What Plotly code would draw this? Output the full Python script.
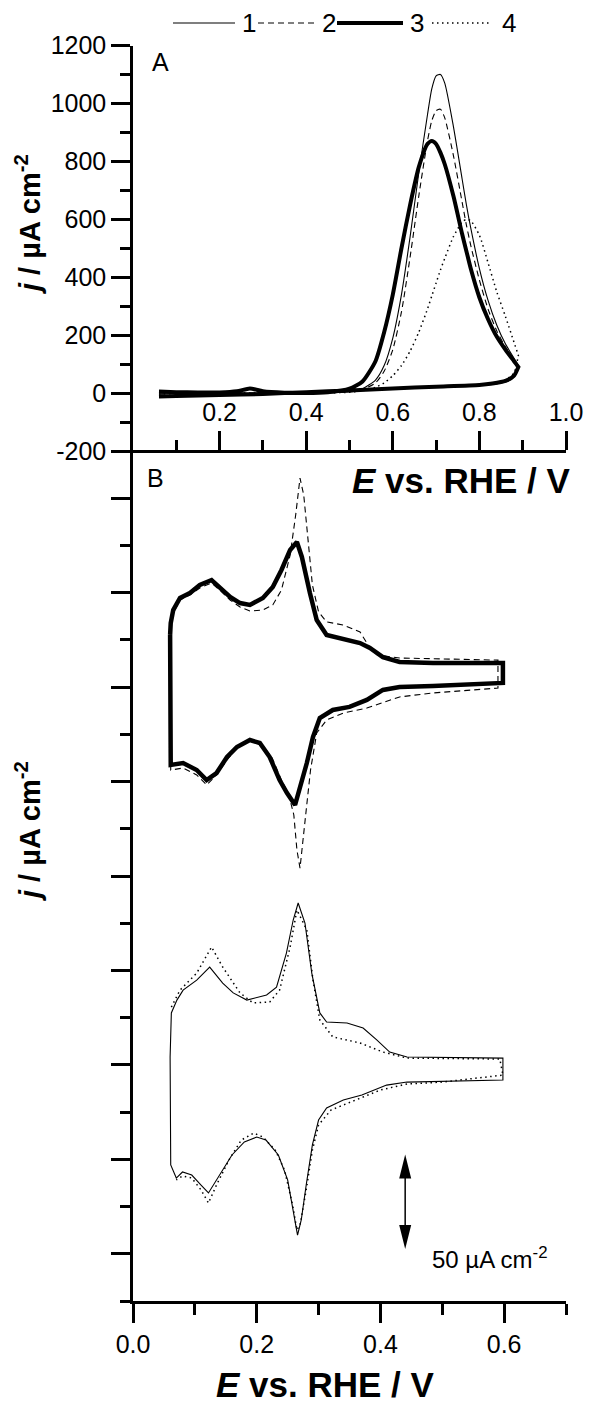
import plotly.graph_objects as go

FONT = "Liberation Sans, Arial, sans-serif"
W, H = 590, 1403

# ---------------- Panel A : CO stripping (j / uA cm-2 vs E / V) ----------------
A_E_fwd = [0.06, 0.10, 0.15, 0.20, 0.24, 0.27, 0.30, 0.35, 0.40, 0.45, 0.50, 0.53,
           0.56, 0.58, 0.60, 0.62, 0.64, 0.66, 0.68, 0.69, 0.70, 0.71, 0.72, 0.74,
           0.76, 0.77, 0.78, 0.80, 0.82, 0.84, 0.86, 0.88, 0.89]
A_E_rev = [0.89, 0.88, 0.86, 0.83, 0.80, 0.70, 0.60, 0.50, 0.40, 0.30, 0.20, 0.10, 0.06]

A1_fwd = [-3, -2, -2, -1, 0, 0, 0, 0, 0, 1, 5, 15, 45, 95, 190, 340, 540, 760, 960,
          1050, 1095, 1100, 1070, 920, 740, 650, 570, 430, 320, 235, 170, 120, 95]
A1_rev = [95, 55, 38, 30, 26, 20, 14, 8, 2, -4, -8, -11, -13]

A2_fwd = [-3, -2, -2, -1, 0, 0, 0, 0, 0, 1, 4, 12, 35, 75, 150, 280, 470, 680, 870,
          940, 975, 980, 950, 820, 660, 580, 510, 390, 290, 215, 160, 115, 95]
A2_rev = [95, 58, 40, 31, 27, 21, 15, 8, 2, -4, -8, -11, -13]

A3_fwd = [5, 3, 2, 2, 6, 16, 6, 1, 0, 3, 15, 40, 110, 210, 340, 500, 650, 780, 860,
          870, 860, 830, 790, 680, 550, 490, 430, 330, 255, 195, 150, 110, 90]
A3_rev = [90, 60, 42, 33, 28, 22, 16, 9, 3, -3, -7, -10, -12]

A4_fwd = [-3, -2, -2, -1, 0, 0, 0, 0, 0, 1, 3, 8, 20, 35, 60, 95, 145, 210, 290,
          335, 380, 425, 465, 540, 590, 600, 595, 545, 450, 350, 265, 175, 130]
A4_rev = [130, 70, 45, 34, 28, 21, 14, 8, 2, -4, -8, -11, -13]

A_yticks = [-200, 0, 200, 400, 600, 800, 1000, 1200]
A_ytext = ["-200", "0", "200", "400", "600", "800", "1000", "1200"]
A_xticks = [0.2, 0.4, 0.6, 0.8, 1.0]
A_xtext = ["0.2", "0.4", "0.6", "0.8", "1.0"]
A_xminor = [0.1, 0.3, 0.5, 0.7, 0.9]

# ---------------- Panel B : blank CVs (offset, arbitrary zero) ----------------
B3_E = [0.060, 0.061, 0.065, 0.076, 0.092, 0.108, 0.127, 0.140, 0.157, 0.173, 0.189,
        0.210, 0.226, 0.240, 0.254, 0.265, 0.273, 0.286, 0.297, 0.313, 0.334, 0.367,
        0.383, 0.404, 0.431, 0.485, 0.598,
        0.598, 0.485, 0.431, 0.404, 0.378, 0.350, 0.323, 0.302, 0.291, 0.281, 0.270,
        0.262, 0.249, 0.237, 0.221, 0.205, 0.189, 0.168, 0.152, 0.135, 0.119, 0.103,
        0.081, 0.061, 0.060]
B3_j = [352.6, 358.9, 365.8, 372.2, 374.8, 379.1, 381.7, 378.0, 372.7, 369.5, 368.5,
        372.2, 378.0, 387.0, 397.6, 401.8, 393.9, 374.8, 360.5, 352.6, 351.0, 348.3,
        345.7, 340.9, 338.3, 337.8, 337.8,
        327.2, 325.6, 325.1, 323.5, 318.2, 314.5, 312.9, 308.6, 298.6, 284.8, 272.1,
        262.6, 268.9, 275.8, 288.0, 295.4, 297.0, 293.3, 288.0, 279.5, 275.8, 281.1,
        284.8, 283.8, 352.6]

B2_E = [0.060, 0.065, 0.076, 0.092, 0.108, 0.127, 0.140, 0.157, 0.173, 0.189, 0.210,
        0.226, 0.240, 0.254, 0.263, 0.270, 0.276, 0.283, 0.290, 0.300, 0.313, 0.340,
        0.367, 0.380, 0.395, 0.431, 0.500, 0.590,
        0.590, 0.485, 0.431, 0.404, 0.378, 0.340, 0.313, 0.297, 0.287, 0.280, 0.275,
        0.270, 0.265, 0.260, 0.252, 0.240, 0.225, 0.205, 0.190, 0.168, 0.152, 0.135,
        0.119, 0.103, 0.081, 0.061, 0.060]
B2_j = [355.2, 364.2, 371.1, 373.8, 377.5, 380.1, 376.4, 371.1, 367.4, 365.3, 365.8,
        368.5, 376.4, 394.9, 416.1, 435.7, 426.7, 402.9, 379.1, 364.8, 359.5, 357.9,
        354.2, 347.3, 342.0, 340.4, 339.9, 339.3,
        324.5, 321.9, 319.8, 316.6, 313.9, 311.3, 307.6, 300.7, 281.1, 259.9, 244.1,
        229.2, 238.8, 257.3, 267.9, 275.8, 287.5, 295.9, 297.0, 292.8, 286.4, 278.5,
        273.2, 278.5, 282.2, 281.1, 355.2]

B1_E = [0.060, 0.062, 0.071, 0.081, 0.103, 0.124, 0.145, 0.162, 0.184, 0.216, 0.232,
        0.248, 0.259, 0.267, 0.278, 0.289, 0.302, 0.313, 0.346, 0.372, 0.394, 0.415,
        0.443, 0.598,
        0.598, 0.500, 0.443, 0.410, 0.390, 0.370, 0.340, 0.313, 0.300, 0.290, 0.280,
        0.272, 0.266, 0.260, 0.250, 0.235, 0.215, 0.200, 0.180, 0.160, 0.140, 0.122,
        0.110, 0.095, 0.080, 0.070, 0.061, 0.060]
B1_j = [129.2, 152.5, 159.3, 164.6, 169.9, 176.8, 168.3, 163.1, 159.3, 162.0, 166.2,
        184.2, 201.7, 210.7, 200.1, 173.6, 152.5, 147.7, 147.2, 144.5, 138.2, 131.8,
        129.2, 128.6,
        117.0, 116.5, 115.9, 114.3, 111.7, 109.1, 106.4, 102.2, 95.8, 82.6, 61.4,
        42.9, 34.9, 45.5, 64.1, 77.3, 85.2, 86.8, 84.2, 77.3, 66.7, 57.2,
        61.4, 66.7, 68.3, 65.1, 72.0, 129.2]

B4_E = [0.062, 0.076, 0.103, 0.127, 0.145, 0.173, 0.194, 0.221, 0.237, 0.254, 0.265,
        0.281, 0.291, 0.302, 0.323, 0.367, 0.404, 0.443, 0.593,
        0.598, 0.500, 0.443, 0.400, 0.360, 0.320, 0.300, 0.290, 0.280, 0.270, 0.265,
        0.258, 0.245, 0.230, 0.210, 0.195, 0.175, 0.155, 0.135, 0.122, 0.110, 0.095,
        0.080, 0.070]
B4_j = [155.6, 164.6, 173.6, 187.4, 176.8, 163.1, 157.8, 158.3, 164.6, 187.4, 207.0,
        196.4, 169.9, 148.8, 139.8, 136.6, 131.8, 128.6, 128.1,
        119.6, 115.9, 114.9, 111.7, 106.4, 101.1, 93.2, 79.9, 58.8, 40.2, 37.6,
        50.8, 69.3, 79.9, 86.8, 88.9, 85.2, 74.6, 61.4, 51.9, 58.8, 65.1,
        66.2, 64.1]

B_xticks = [0.0, 0.2, 0.4, 0.6]
B_xtext = ["0.0", "0.2", "0.4", "0.6"]
SCALE_BAR = 50          # uA cm-2
SCALE_BOTTOM = 27.5
SCALE_E = 0.44

LEGEND_LABELS = ["1", "2", "3", "4"]

# ---------------- styles ----------------
STY = {
    1: dict(color="black", width=1.1),
    2: dict(color="black", width=1.1, dash="6px,4px"),
    3: dict(color="black", width=4),
    4: dict(color="black", width=1.5, dash="1.5px,3.5px"),
}

fig = go.Figure()

def addA(fwd, rev, k):
    fig.add_trace(go.Scatter(x=A_E_fwd + A_E_rev, y=fwd + rev, mode="lines",
                             line=dict(shape="spline", smoothing=0.6, **STY[k]),
                             xaxis="x", yaxis="y", showlegend=False, name=str(k)))

addA(A4_fwd, A4_rev, 4)
addA(A2_fwd, A2_rev, 2)
addA(A1_fwd, A1_rev, 1)
addA(A3_fwd, A3_rev, 3)

def addB(E, j, k, w=None):
    st = dict(STY[k])
    if w:
        st["width"] = w
    fig.add_trace(go.Scatter(x=E, y=j, mode="lines",
                             line=dict(shape="linear", **st),
                             xaxis="x2", yaxis="y2", showlegend=False, name=str(k)))

addB(B2_E, B2_j, 2)
addB(B3_E, B3_j, 3, 4.5)
addB(B4_E, B4_j, 4)
addB(B1_E, B1_j, 1)

xdom = [133 / W, 566 / W]
yA = [1 - 451 / H, 1 - 45.5 / H]
yB = [1 - 1301 / H, 1 - 451 / H]

tickfont = dict(family=FONT, size=25, color="black")
axcommon = dict(showgrid=False, zeroline=False, showline=True, linecolor="black",
                linewidth=2.5, tickcolor="black", tickwidth=2.5, tickfont=tickfont,
                automargin=False, layer="above traces")

fig.update_layout(
    template="none",
    width=W, height=H, margin=dict(l=0, r=0, t=0, b=0, pad=0),
    paper_bgcolor="white", plot_bgcolor="white", showlegend=False,
    font=dict(family=FONT, color="black"),
    xaxis=dict(domain=xdom, range=[0, 1.0], anchor="free", position=yA[0], side="top",
               tickmode="array", tickvals=A_xticks, ticktext=A_xtext,
               ticks="outside", ticklen=19,
               minor=dict(tickmode="array", tickvals=A_xminor, ticks="outside",
                          ticklen=10, tickwidth=2.5, tickcolor="black"),
               **axcommon),
    yaxis=dict(domain=yA, range=[-200, 1200], anchor="x", tickmode="array",
               tickvals=A_yticks, ticktext=A_ytext, ticks="outside", ticklen=19,
               minor=dict(dtick=100, tick0=-200, ticks="outside", ticklen=10,
                          tickwidth=2.5, tickcolor="black"),
               **axcommon),
    xaxis2=dict(domain=xdom, range=[0, 0.7], anchor="y2", tickmode="array",
                tickvals=B_xticks, ticktext=B_xtext, ticks="outside", ticklen=19,
                minor=dict(dtick=0.1, tick0=0, ticks="outside", ticklen=11,
                           tickwidth=2.5, tickcolor="black"),
                **axcommon),
    yaxis2=dict(domain=yB, range=[0, 450], anchor="x2", tick0=25, dtick=50,
                showticklabels=False, ticks="outside", ticklen=19,
                minor=dict(dtick=25, tick0=0, ticks="outside", ticklen=10,
                           tickwidth=2.5, tickcolor="black"),
                **axcommon),
)

shapes = []
annos = []

def px(x):
    return x / W

def py(y):
    return 1 - y / H

# legend (drawn manually)
leg_lines = [(173, 235, 1), (258, 317, 2), (337, 403, 3), (432, 490, 4)]
leg_text_x = [249, 329, 417, 509]
for (x0, x1, k), tx, lab in zip(leg_lines, leg_text_x, LEGEND_LABELS):
    shapes.append(dict(type="line", xref="paper", yref="paper", x0=px(x0), x1=px(x1),
                       y0=py(23), y1=py(23), line=STY[k]))
    annos.append(dict(text=lab, x=px(tx), y=py(23), xref="paper", yref="paper",
                      showarrow=False, xanchor="center", yanchor="middle",
                      font=dict(family=FONT, size=26, color="black")))

# scale bar (panel B)
shapes.append(dict(type="line", xref="x2", yref="y2", x0=SCALE_E, x1=SCALE_E,
                   y0=SCALE_BOTTOM + 8, y1=SCALE_BOTTOM + SCALE_BAR - 8,
                   line=dict(color="black", width=1.5)))
shapes.append(dict(type="path", xref="x2", yref="y2", xsizemode="pixel", ysizemode="pixel",
                   xanchor=SCALE_E, yanchor=SCALE_BOTTOM + SCALE_BAR,
                   path="M0,0 L-6,-24 L6,-24 Z", fillcolor="black", line=dict(width=0)))
shapes.append(dict(type="path", xref="x2", yref="y2", xsizemode="pixel", ysizemode="pixel",
                   xanchor=SCALE_E, yanchor=SCALE_BOTTOM,
                   path="M0,0 L-6,24 L6,24 Z", fillcolor="black", line=dict(width=0)))
annos.append(dict(text="50 µA cm<sup>-2</sup>", x=px(430), y=py(1258), xref="paper",
                  yref="paper", showarrow=False, xanchor="left", yanchor="middle",
                  font=dict(family=FONT, size=24, color="black")))

# panel letters
annos.append(dict(text="A", x=px(161), y=py(62), xref="paper", yref="paper",
                  showarrow=False, xanchor="center", yanchor="middle",
                  font=dict(family=FONT, size=25, color="black")))
annos.append(dict(text="B", x=px(155), y=py(478), xref="paper", yref="paper",
                  showarrow=False, xanchor="center", yanchor="middle",
                  font=dict(family=FONT, size=25, color="black")))

# axis titles
xt = "<b><i>E</i> vs. RHE / V</b>"
yt = "<b><i>j</i> / µA cm<sup>-2</sup></b>"
annos.append(dict(text=xt, x=px(461), y=py(481), xref="paper", yref="paper",
                  showarrow=False, xanchor="center", yanchor="middle",
                  font=dict(family=FONT, size=35, color="black")))
annos.append(dict(text=xt, x=px(325), y=py(1384), xref="paper", yref="paper",
                  showarrow=False, xanchor="center", yanchor="middle",
                  font=dict(family=FONT, size=35, color="black")))
annos.append(dict(text=yt, x=px(28), y=py(225), xref="paper", yref="paper",
                  showarrow=False, xanchor="center", yanchor="middle", textangle=-90,
                  font=dict(family=FONT, size=29, color="black")))
annos.append(dict(text=yt, x=px(28), y=py(832), xref="paper", yref="paper",
                  showarrow=False, xanchor="center", yanchor="middle", textangle=-90,
                  font=dict(family=FONT, size=29, color="black")))

fig.update_layout(shapes=shapes, annotations=annos)
fig.write_html("out.html")
